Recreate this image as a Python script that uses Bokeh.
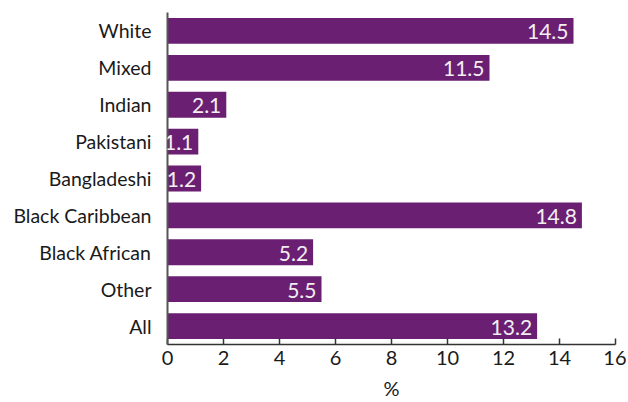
from bokeh.plotting import figure
from bokeh.models import ColumnDataSource, FactorRange, Range1d, LabelSet, FixedTicker
from bokeh.core.properties import value
from bokeh.embed import file_html
from bokeh.resources import INLINE

categories = ["White", "Mixed", "Indian", "Pakistani", "Bangladeshi",
              "Black Caribbean", "Black African", "Other", "All"]
values = [14.5, 11.5, 2.1, 1.1, 1.2, 14.8, 5.2, 5.5, 13.2]
x_ticks = [0, 2, 4, 6, 8, 10, 12, 14, 16]

FONT = "Lato"
BAR = "#6b1f72"

src = ColumnDataSource(dict(cat=categories, val=values,
                            lab=[f"{v:.1f}" for v in values]))

p = figure(width=626, height=402, output_backend="svg", toolbar_location=None,
           y_range=FactorRange(*categories[::-1], range_padding=0),
           x_range=Range1d(0, 16),
           min_border_left=167, min_border_right=11,
           min_border_top=12, min_border_bottom=58)

p.hbar(y="cat", right="val", left=0, height=0.7, source=src,
       fill_color=BAR, line_color=None)

labels = LabelSet(x="val", y="cat", text="lab", source=src,
                  x_offset=-5, y_offset=-1, text_align="right", text_baseline="middle",
                  text_color="#f2eef2", text_font=value(FONT),
                  text_font_size="21px")
p.add_layout(labels)

p.outline_line_color = None
p.grid.visible = False
p.background_fill_color = "white"
p.border_fill_color = "white"

xa = p.xaxis[0]
xa.ticker = FixedTicker(ticks=x_ticks)
xa.axis_label = "%"
xa.axis_label_text_font = FONT
xa.axis_label_text_font_size = "20px"
xa.axis_label_text_font_style = "normal"
xa.axis_label_text_color = "#1a1a1a"
xa.axis_label_standoff = 8
xa.major_label_text_font = FONT
xa.major_label_text_font_size = "20px"
xa.major_label_text_color = "#1a1a1a"
xa.major_label_standoff = 6
xa.axis_line_color = "#333333"
xa.axis_line_width = 1.5
xa.major_tick_line_color = "#333333"
xa.major_tick_line_width = 1.5
xa.major_tick_in = 6
xa.major_tick_out = 0
xa.minor_tick_line_color = None

ya = p.yaxis[0]
ya.major_label_text_font = FONT
ya.major_label_text_font_size = "19.5px"
ya.major_label_text_color = "#1a1a1a"
ya.major_label_standoff = 10
ya.axis_line_color = "#555555"
ya.axis_line_width = 2
ya.major_tick_line_color = None
ya.minor_tick_line_color = None

open("out.html", "w").write(file_html(p, INLINE))
